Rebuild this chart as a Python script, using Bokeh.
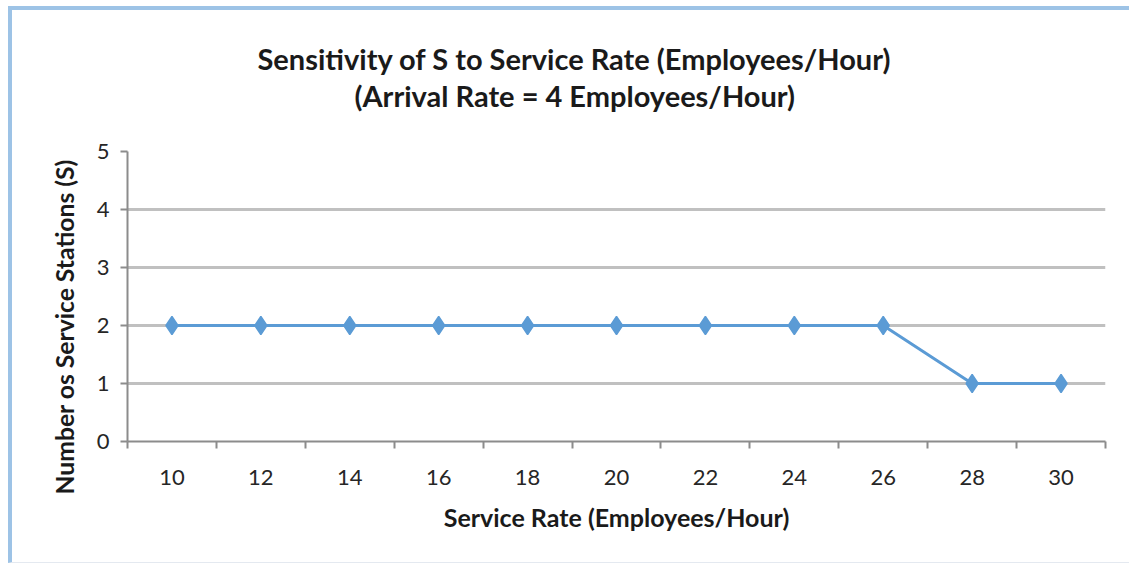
from bokeh.plotting import figure
from bokeh.models import Range1d, FixedTicker, Title
from bokeh.embed import file_html
from bokeh.resources import INLINE

# Service rate (employees/hour) and the resulting number of service stations
service_rate = [10, 12, 14, 16, 18, 20, 22, 24, 26, 28, 30]
stations = [2, 2, 2, 2, 2, 2, 2, 2, 2, 1, 1]
y_ticks = [0, 1, 2, 3, 4, 5]

title_lines = ["Sensitivity of S to Service Rate (Employees/Hour)",
               "(Arrival Rate = 4 Employees/Hour)"]
x_title = "Service Rate (Employees/Hour)"
y_title = "Number os Service Stations (S)"

FONT = "Lato"
LINE_BLUE = "#5b9bd5"
GRID_GREY = "#c0c0c0"
AXIS_GREY = "#8c8c8c"
TEXT_DARK = "#1a1a1a"

p = figure(
    width=1121, height=557,
    output_backend="svg", toolbar_location=None,
    x_range=Range1d(service_rate[0] - 1, service_rate[-1] + 1),
    y_range=Range1d(y_ticks[0], y_ticks[-1]),
    min_border_left=115, min_border_right=28,
    min_border_top=141, min_border_bottom=126,
    background_fill_color="white", border_fill_color="white",
    outline_line_color=None,
    styles={
        "margin-left": "8px", "margin-top": "6px",
        "border-left": "4px solid #9dc3e6",
        "border-top": "4px solid #9dc3e6",
        "border-bottom": "1px solid #e4e9f0",
    },
)

# two-line heading: the lower line sits closest to the plot area
title_style = dict(align="left", text_font=FONT, text_font_size="29px",
                   text_font_style="bold", text_color=TEXT_DARK)
p.add_layout(Title(text=title_lines[1], offset=227, standoff=77, **title_style), "above")
p.add_layout(Title(text=title_lines[0], offset=130, standoff=-77, **title_style), "above")

# vertical axis title, run from below the plot area upward
p.add_layout(Title(text=y_title, align="left", offset=-53, standoff=30,
                   text_font=FONT, text_font_size="24.7px", text_font_style="bold",
                   text_color=TEXT_DARK), "left")

# x axis: labels at each service rate, small tick marks between categories
bounds = [r - 1 for r in service_rate] + [service_rate[-1] + 1]
p.xaxis.ticker = FixedTicker(ticks=service_rate, minor_ticks=bounds)
p.xaxis.axis_label = x_title
p.xaxis.major_tick_line_color = None
p.xaxis.minor_tick_line_color = AXIS_GREY
p.xaxis.minor_tick_line_width = 2
p.xaxis.minor_tick_out = 7
p.xaxis.minor_tick_in = 0
p.xaxis.major_label_standoff = 21
p.xaxis.axis_label_standoff = 14

p.yaxis.ticker = FixedTicker(ticks=y_ticks, minor_ticks=[])
p.yaxis.major_tick_line_color = AXIS_GREY
p.yaxis.major_tick_line_width = 2
p.yaxis.major_tick_out = 7
p.yaxis.major_tick_in = 0
p.yaxis.major_label_standoff = 11

for ax in (p.xaxis, p.yaxis):
    ax.axis_line_color = AXIS_GREY
    ax.axis_line_width = 2
    ax.major_label_text_font = FONT
    ax.major_label_text_font_size = "22px"
    ax.major_label_text_color = "#262626"
    ax.axis_label_text_font = FONT
    ax.axis_label_text_font_size = "25px"
    ax.axis_label_text_font_style = "bold"
    ax.axis_label_text_color = TEXT_DARK

p.xgrid.grid_line_color = None
p.ygrid.grid_line_color = GRID_GREY
p.ygrid.grid_line_width = 3

p.line(service_rate, stations, line_color=LINE_BLUE, line_width=3)
p.scatter(service_rate, stations, marker="diamond", size=18,
          fill_color=LINE_BLUE, line_color=LINE_BLUE, line_width=1.5)

open("out.html", "w").write(file_html(p, INLINE))
